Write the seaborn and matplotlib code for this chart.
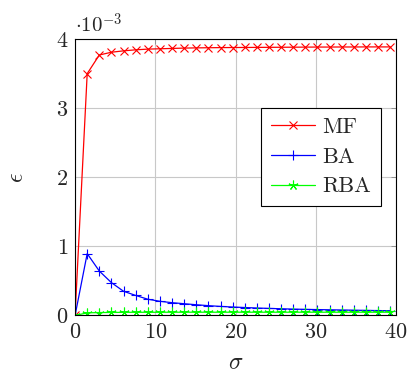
import numpy as np
import pandas as pd
import matplotlib as mpl
mpl.use("Agg")
import matplotlib.pyplot as plt
import seaborn as sns

sns.set_style("white")
mpl.rcParams["font.family"] = ["cmr10", "DejaVu Serif"]
mpl.rcParams["mathtext.fontset"] = "cm"
mpl.rcParams["axes.formatter.use_mathtext"] = True

# values (eps in units of 1e-3)
sigma = [0.0, 1.51, 3.02, 4.53, 6.04, 7.55, 9.06, 10.57, 12.08, 13.59, 15.1,
         16.61, 18.12, 19.63, 21.14, 22.65, 24.16, 25.67, 27.18, 28.69, 30.2,
         31.71, 33.22, 34.73, 36.24, 37.75, 39.26]
mf = [0.0, 3.50, 3.77, 3.81, 3.83, 3.845, 3.855, 3.86, 3.865, 3.87, 3.873,
      3.875, 3.877, 3.878, 3.879, 3.88, 3.881, 3.882, 3.883, 3.884, 3.885,
      3.885, 3.886, 3.886, 3.887, 3.887, 3.887]
ba = [0.0, 0.895, 0.643, 0.475, 0.350, 0.290, 0.235, 0.205, 0.185, 0.170,
      0.155, 0.142, 0.131, 0.122, 0.115, 0.108, 0.102, 0.097, 0.092, 0.088,
      0.085, 0.082, 0.079, 0.076, 0.073, 0.071, 0.068]
rba = [0.0, 0.038, 0.042, 0.044, 0.045, 0.046, 0.046, 0.046, 0.047, 0.047,
       0.047, 0.047, 0.047, 0.047, 0.047, 0.047, 0.047, 0.047, 0.047, 0.047,
       0.047, 0.047, 0.047, 0.047, 0.047, 0.047, 0.047]

df = pd.DataFrame({"sigma": sigma, "MF": mf, "BA": ba, "RBA": rba})

fig = plt.figure(figsize=(4.08, 3.76), dpi=100)
ax = fig.add_axes([0.184, 0.161, 0.787, 0.735])

styles = {"MF": ("red", "x", 6), "BA": ("blue", "+", 7.5),
          "RBA": ((0, 1, 0), (5, 2, 0), 7)}
for name, (col, mk, ms) in styles.items():
    sns.lineplot(data=df, x="sigma", y=name, ax=ax, color=col, marker=mk,
                 markersize=ms, markeredgewidth=0.8, linewidth=0.9, label=name,
                 markeredgecolor=col)

ax.set_xlim(0, 40)
ax.set_ylim(0, 4)
ax.set_xticks([0, 10, 20, 30, 40])
ax.set_yticks([0, 1, 2, 3, 4])
ax.grid(True, color="#c8c8c8", linewidth=0.8)
ax.set_axisbelow(True)
for s in ax.spines.values():
    s.set_color("black")
    s.set_linewidth(0.8)
ax.tick_params(direction="in", length=3.5, width=0.6, color="#888888",
               labelsize=16, top=True, right=True, pad=5)
ax.set_xlabel(r"$\sigma$", fontsize=17, labelpad=7)
ax.set_ylabel(r"$\epsilon$", fontsize=17, labelpad=20)
ax.text(0.0, 1.01, r"$\cdot 10^{-3}$", transform=ax.transAxes, fontsize=15,
        ha="left", va="bottom")

leg = ax.legend(loc="upper right", bbox_to_anchor=(0.952, 0.752), fontsize=16,
                frameon=True, fancybox=False, framealpha=1, edgecolor="black",
                borderpad=0.45, handlelength=2.0, handletextpad=0.3,
                labelspacing=0.45, borderaxespad=0)
leg.get_frame().set_linewidth(0.8)

fig.savefig("out.png", dpi=100)
